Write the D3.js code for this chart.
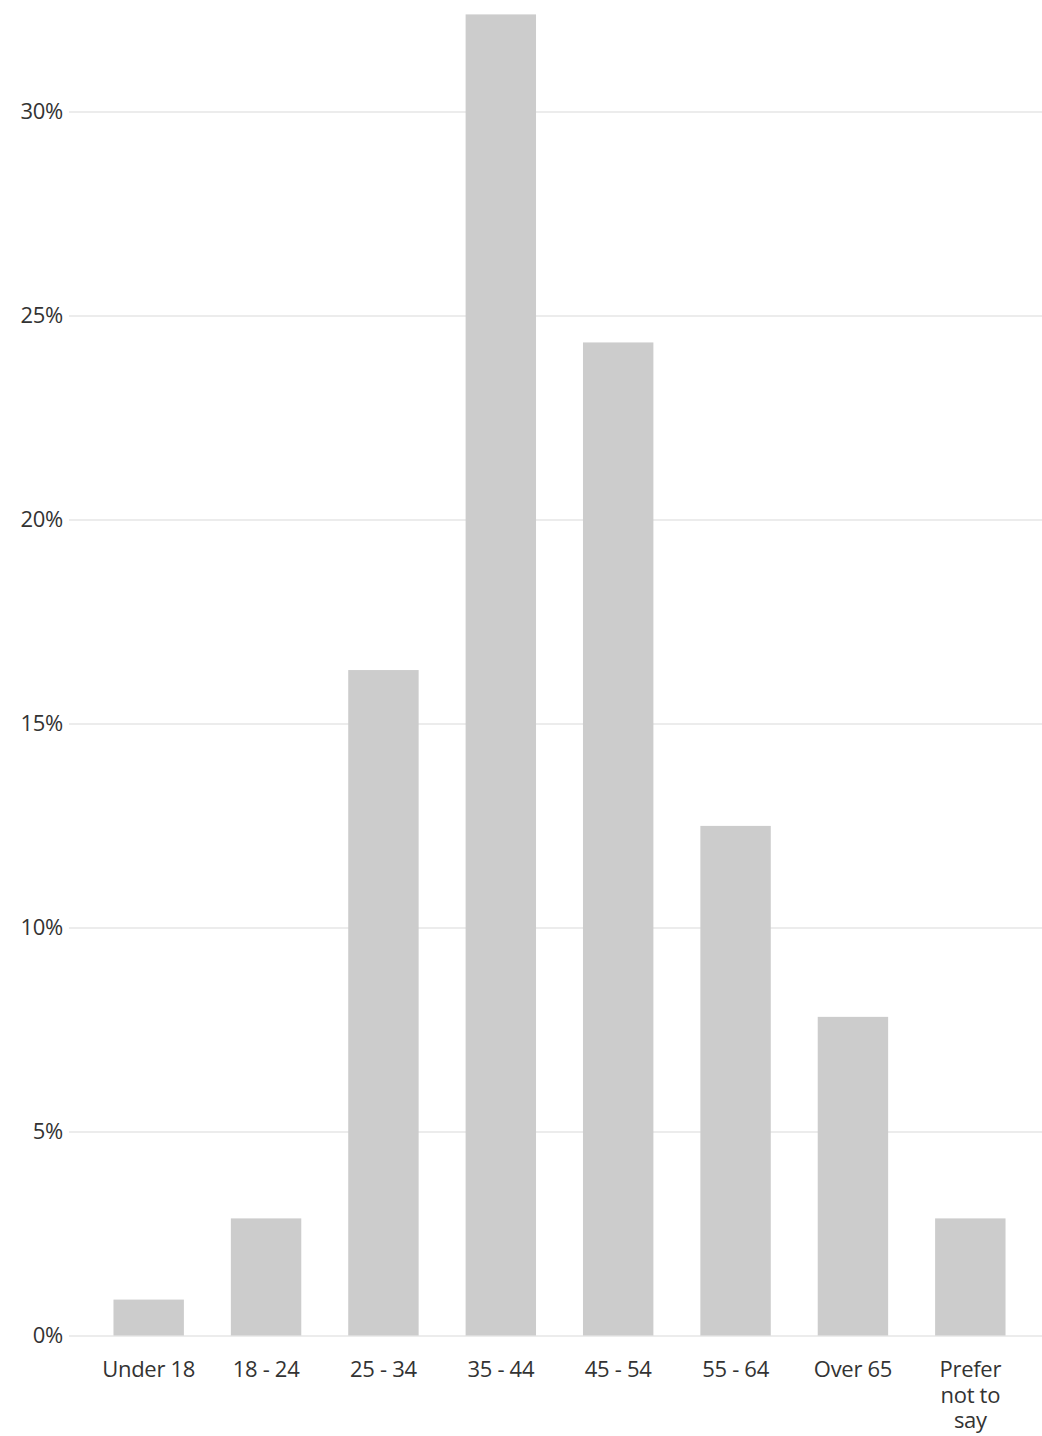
<!DOCTYPE html>
<html><head><meta charset="utf-8">
<script src="https://cdn.jsdelivr.net/npm/d3@7"></script>
<style>body{margin:0;background:#fff}svg{display:block}text{font-family:"Open Sans",sans-serif;fill:#333}</style>
</head><body>
<script>
const categories = ["Under 18","18 - 24","25 - 34","35 - 44","45 - 54","55 - 64","Over 65","Prefer not to say"];
const values = [0.88, 2.87, 16.31, 32.38, 24.34, 12.49, 7.81, 2.87];
const yTicks = [0,5,10,15,20,25,30];
const W=1042,H=1436;
const svg=d3.select("body").append("svg").attr("width",W).attr("height",H);
const x=d3.scaleBand().domain(categories).range([90,1029]).paddingInner(0.4).paddingOuter(0.2);
const y=d3.scaleLinear().domain([0,30]).range([1335.5,111.5]);
const yAxis=d3.axisLeft(y).tickValues(yTicks).tickFormat(d=>d+"%").tickSize(-(1042-69)).tickPadding(6);
const ga=svg.append("g").attr("transform","translate(69,0)").call(yAxis);
ga.select(".domain").remove();
ga.selectAll(".tick line").attr("stroke","#e6e6e6").attr("stroke-width",1.5);
ga.selectAll(".tick text").attr("font-size",22).attr("fill","#333").attr("letter-spacing",-0.3);
svg.append("g").selectAll("rect").data(values).join("rect")
 .attr("x",(d,i)=>x(categories[i])).attr("width",x.bandwidth())
 .attr("y",d=>y(d)).attr("height",d=>y(0)-y(d)).attr("fill","#cccccc");
const xAxis=d3.axisBottom(x).tickSize(0).tickPadding(0);
const gx=svg.append("g").attr("transform","translate(0,1336)").call(xAxis);
gx.select(".domain").remove();
gx.selectAll(".tick text").attr("font-size",22).attr("fill","#333").attr("letter-spacing",-0.3).attr("dy",null).attr("y",0).text(null)
 .each(function(d){
   const t=d3.select(this);
   const lines = d==="Prefer not to say" ? ["Prefer","not to","say"] : [d];
   lines.forEach((l,i)=>t.append("tspan").attr("x",0).attr("y",41+i*25.5).text(l));
 });
</script>
</body></html>
